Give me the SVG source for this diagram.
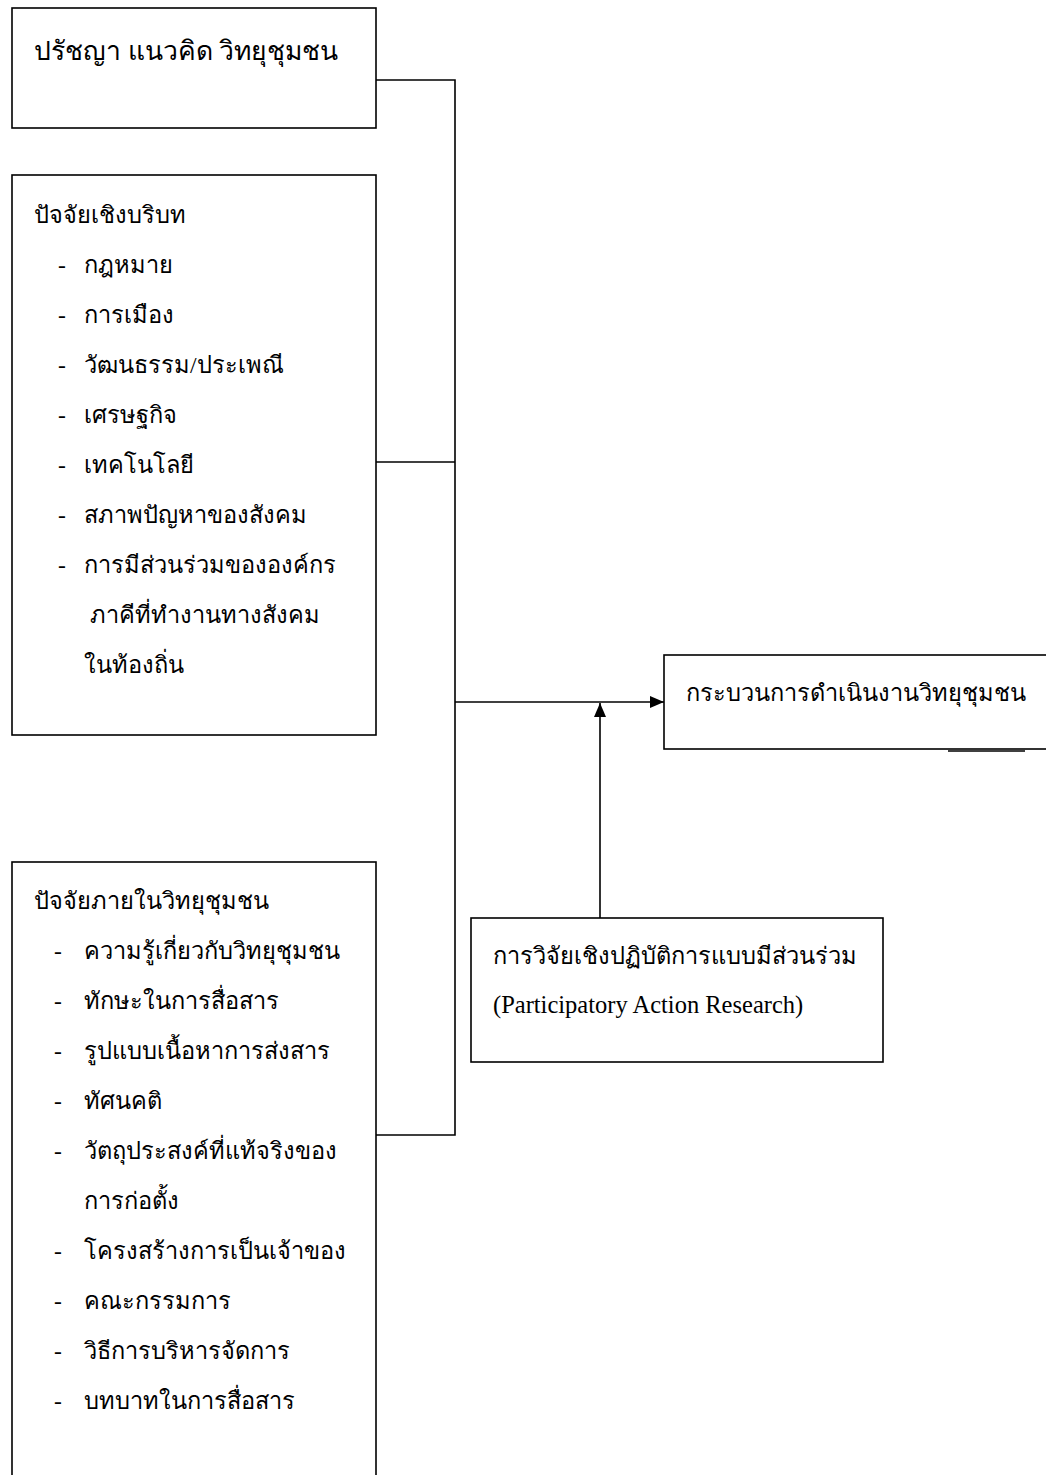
<svg xmlns="http://www.w3.org/2000/svg" width="1046" height="1475" viewBox="0 0 1046 1475">
<style>
.box{fill:#fff;stroke:#000;stroke-width:1.6}
.ln{fill:none;stroke:#000;stroke-width:1.6}
text{font-family:"Liberation Serif","Noto Sans",serif;fill:#000}
.t{font-size:23.6px}
.h{font-size:26.5px}
.e{font-size:24.5px}
</style>
<defs>
<marker id="ah" viewBox="0 0 14 12" refX="14" refY="6" markerWidth="14" markerHeight="12" markerUnits="userSpaceOnUse" orient="auto">
<path d="M0,0 L14,6 L0,12 z" fill="#000"/>
</marker>
</defs>
<rect width="1046" height="1475" fill="#fff"/>
<g id="connectors">
<polyline class="ln" points="376,80 455,80 455,1135 376,1135"/>
<line class="ln" x1="376" y1="462" x2="455" y2="462"/>
<line class="ln" x1="455" y1="702" x2="664" y2="702" marker-end="url(#ah)"/>
<line class="ln" x1="600" y1="918" x2="600" y2="703" marker-end="url(#ah)"/>
<line class="ln" x1="948" y1="751" x2="1025" y2="751"/>
</g>
<g id="n1">
<rect class="box" x="12" y="8" width="364" height="120"/>
<text class="h" x="34" y="60">ปรัชญา แนวคิด วิทยุชุมชน</text>
</g>
<g id="n2">
<rect class="box" x="12" y="175" width="364" height="560"/>
<text class="t" x="34" y="223">ปัจจัยเชิงบริบท</text>
<text class="t" x="58" y="273">-</text><text class="t" x="84" y="273">กฎหมาย</text>
<text class="t" x="58" y="323">-</text><text class="t" x="84" y="323">การเมือง</text>
<text class="t" x="58" y="373">-</text><text class="t" x="84" y="373">วัฒนธรรม/ประเพณี</text>
<text class="t" x="58" y="423">-</text><text class="t" x="84" y="423">เศรษฐกิจ</text>
<text class="t" x="58" y="473">-</text><text class="t" x="84" y="473">เทคโนโลยี</text>
<text class="t" x="58" y="523">-</text><text class="t" x="84" y="523">สภาพปัญหาของสังคม</text>
<text class="t" x="58" y="573">-</text><text class="t" x="84" y="573">การมีส่วนร่วมขององค์กร</text>
<text class="t" x="90" y="623">ภาคีที่ทำงานทางสังคม</text>
<text class="t" x="84" y="673">ในท้องถิ่น</text>
</g>
<g id="n3">
<rect class="box" x="12" y="862" width="364" height="640"/>
<text class="t" x="34" y="909">ปัจจัยภายในวิทยุชุมชน</text>
<text class="t" x="54" y="959">-</text><text class="t" x="84" y="959">ความรู้เกี่ยวกับวิทยุชุมชน</text>
<text class="t" x="54" y="1009">-</text><text class="t" x="84" y="1009">ทักษะในการสื่อสาร</text>
<text class="t" x="54" y="1059">-</text><text class="t" x="84" y="1059">รูปแบบเนื้อหาการส่งสาร</text>
<text class="t" x="54" y="1109">-</text><text class="t" x="84" y="1109">ทัศนคติ</text>
<text class="t" x="54" y="1159">-</text><text class="t" x="84" y="1159">วัตถุประสงค์ที่แท้จริงของ</text>
<text class="t" x="84" y="1209">การก่อตั้ง</text>
<text class="t" x="54" y="1259">-</text><text class="t" x="84" y="1259">โครงสร้างการเป็นเจ้าของ</text>
<text class="t" x="54" y="1309">-</text><text class="t" x="84" y="1309">คณะกรรมการ</text>
<text class="t" x="54" y="1359">-</text><text class="t" x="84" y="1359">วิธีการบริหารจัดการ</text>
<text class="t" x="54" y="1409">-</text><text class="t" x="84" y="1409">บทบาทในการสื่อสาร</text>
</g>
<g id="n4">
<rect class="box" x="664" y="655" width="400" height="94"/>
<text class="t" x="686" y="701">กระบวนการดำเนินงานวิทยุชุมชน</text>
</g>
<g id="n5">
<rect class="box" x="471" y="918" width="412" height="144"/>
<text class="t" x="493" y="964">การวิจัยเชิงปฏิบัติการแบบมีส่วนร่วม</text>
<text class="e" x="493" y="1013">(Participatory Action Research)</text>
</g>
</svg>
